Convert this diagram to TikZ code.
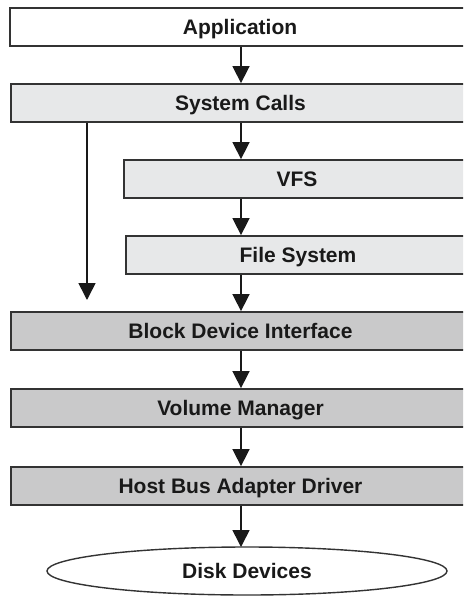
\documentclass[tikz,border=0pt]{standalone}
\usepackage{fontspec}
\setmainfont{Liberation Sans}
\usetikzlibrary{arrows.meta,shapes.geometric}
\definecolor{edgegray}{HTML}{333333}
\definecolor{lightfill}{HTML}{E7E8E9}
\definecolor{darkfill}{HTML}{C9C9CA}
\tikzset{
  labelfont/.style={font=\bfseries\fontsize{21}{24}\selectfont, text=black!90,
    text height=15pt, text depth=0pt},
  layer/.style={draw=edgegray, line width=1.8pt, rectangle, minimum height=38pt,
    inner sep=0pt, labelfont},
  flow/.style={draw=black!90, line width=1.6pt,
    -{Triangle[length=17pt,width=17pt]}},
}
\begin{document}
\begin{tikzpicture}[x=1pt,y=-1pt]
\useasboundingbox (0,0) rectangle (463,596);
\clip (0,0) rectangle (463,596);
\fill[white] (0,0) rectangle (463,596);

% user space and VFS layers
\node[layer, fill=white, minimum width=460pt] (app) at (240,27) {Application};
\node[layer, fill=lightfill, minimum width=459pt] (sys) at (240.5,103) {System Calls};
\node[layer, fill=lightfill, minimum width=346pt] (vfs) at (297,179) {VFS};
\node[layer, fill=lightfill, minimum width=344pt] (fs) at (298,255) {File System};

% block layers
\node[layer, fill=darkfill, minimum width=459pt] (bdi) at (240.5,331) {Block Device Interface};
\node[layer, fill=darkfill, minimum width=459pt] (vm) at (240.5,408) {Volume Manager};
\node[layer, fill=darkfill, minimum width=459pt] (hba) at (240.5,486) {Host Bus Adapter Driver};

% disks
\node[draw=edgegray, line width=1.4pt, fill=white, ellipse, minimum width=400pt,
  minimum height=48pt, inner sep=0pt, labelfont]
  (disk) at (247,571) {Disk Devices};

% connectors
\coordinate (rawend) at (87,300);
\draw[flow] (app.south -| 241,0) -- (sys.north -| 241,0);
\draw[flow] (sys.south -| 241,0) -- (vfs.north -| 241,0);
\draw[flow] (vfs.south -| 241,0) -- (fs.north -| 241,0);
\draw[flow] (fs.south -| 241,0) -- (bdi.north -| 241,0);
\draw[flow] (sys.south -| rawend) -- (rawend);
\draw[flow] (bdi.south -| 241,0) -- (vm.north -| 241,0);
\draw[flow] (vm.south -| 241,0) -- (hba.north -| 241,0);
\draw[flow] (hba.south -| 241,0) -- (241,547);
\end{tikzpicture}
\end{document}
